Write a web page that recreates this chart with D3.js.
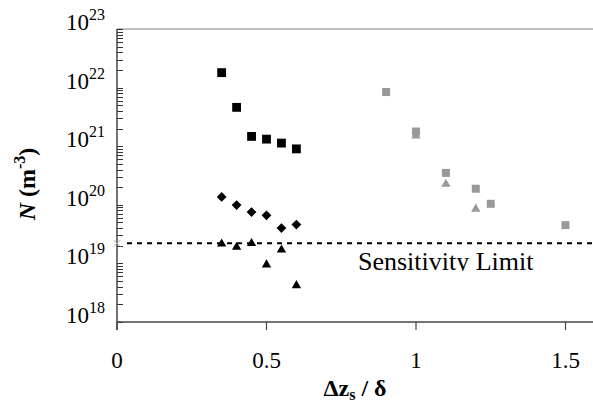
<!DOCTYPE html>
<html lang="en">
<head>
<meta charset="utf-8">
<title>N vs dz/delta</title>
<script src="https://d3js.org/d3.v7.min.js"></script>
<style>
  body { margin: 0; background: #fff; }
  svg { display: block; }
  text { font-family: "Liberation Serif", "Times New Roman", serif; fill: #000; }
</style>
</head>
<body>
<div id="chart"></div>
<script>
// values
var xBlack   = [0.35, 0.40, 0.45, 0.50, 0.55, 0.60];
var sqBlack  = [1.8e22, 4.6e21, 1.47e21, 1.32e21, 1.13e21, 9.0e20];
var diaBlack = [1.36e20, 9.9e19, 7.5e19, 6.6e19, 4.0e19, 4.6e19];
var triBlack = [2.15e19, 1.9e19, 2.2e19, 9.5e18, 1.7e19, 4.2e18];
var xGray    = [0.9, 1.0, 1.1, 1.2, 1.25, 1.5];
var sqGray   = [8.4e21, 1.78e21, 3.5e20, 1.88e20, 1.04e20, 4.5e19];
var xGrayTri = [1.0, 1.1, 1.2];
var triGray  = [1.5e21, 2.26e20, 8.5e19];
var sensLimit = 2.2e19;
var xTicks = [0, 0.5, 1, 1.5];
var yDecades = [18, 19, 20, 21, 22, 23];

var W = 593, H = 407;
var plotLeft = 117, plotTop = 29, plotBottom = 322;

var svg = d3.select("#chart").append("svg")
  .attr("width", W).attr("height", H);

var x = d3.scaleLinear().domain([0, 1.6]).range([plotLeft, plotLeft + 1.6 * 299]);
var y = d3.scaleLog().domain([1e18, 1e23]).range([plotBottom, plotTop]);

// top border
svg.append("line")
  .attr("x1", plotLeft).attr("x2", W).attr("y1", plotTop).attr("y2", plotTop)
  .attr("stroke", "#aaa").attr("stroke-width", 1.5);

// y minor + major ticks (inside)
var yTickVals = [];
yDecades.forEach(function(d) {
  yTickVals.push(Math.pow(10, d));
  if (d < 23) for (var k = 2; k <= 9; k++) yTickVals.push(k * Math.pow(10, d));
});
svg.append("g").selectAll("line").data(yTickVals).enter().append("line")
  .attr("x1", plotLeft).attr("x2", plotLeft + 6)
  .attr("y1", function(d) { return Math.round(y(d)) + 0.5; })
  .attr("y2", function(d) { return Math.round(y(d)) + 0.5; })
  .attr("stroke", "#333").attr("stroke-width", 1);

// axis lines
svg.append("line")
  .attr("x1", plotLeft).attr("x2", plotLeft).attr("y1", plotTop).attr("y2", plotBottom + 8)
  .attr("stroke", "#444").attr("stroke-width", 1.5);
svg.append("line")
  .attr("x1", plotLeft).attr("x2", W).attr("y1", plotBottom).attr("y2", plotBottom)
  .attr("stroke", "#444").attr("stroke-width", 1.5);

// x ticks (outside)
svg.append("g").selectAll("line").data(xTicks).enter().append("line")
  .attr("x1", function(d) { return x(d); }).attr("x2", function(d) { return x(d); })
  .attr("y1", plotBottom).attr("y2", plotBottom + 8)
  .attr("stroke", "#444").attr("stroke-width", 1.2);

svg.append("g").selectAll("text").data(xTicks).enter().append("text")
  .attr("x", function(d) { return x(d); })
  .attr("y", 368)
  .attr("text-anchor", "middle")
  .style("font-size", "23px")
  .text(function(d) { return d; });

// y tick labels 10^n
var yl = svg.append("g").selectAll("text").data(yDecades).enter().append("text")
  .attr("x", 105)
  .attr("y", function(d) { return y(Math.pow(10, d)) + 1; })
  .attr("text-anchor", "end")
  .style("font-size", "23px");
yl.append("tspan").text("10");
yl.append("tspan").attr("dy", -10).style("font-size", "16px")
  .text(function(d) { return d; });

// axis titles
svg.append("text")
  .attr("x", 355).attr("y", 396)
  .attr("text-anchor", "middle")
  .style("font-size", "24px").style("font-weight", "bold")
  .html('Δz<tspan dy="4" font-size="16px">s</tspan><tspan dy="-4"> / δ</tspan>');

svg.append("text")
  .attr("transform", "translate(35,184) rotate(-90)")
  .attr("text-anchor", "middle")
  .style("font-size", "24px").style("font-weight", "bold")
  .html('<tspan font-style="italic">N</tspan> (m<tspan dy="-10" font-size="16px">-3</tspan><tspan dy="10">)</tspan>');

// sensitivity limit
svg.append("line")
  .attr("x1", plotLeft + 10).attr("x2", W)
  .attr("y1", y(sensLimit)).attr("y2", y(sensLimit))
  .attr("stroke", "#000").attr("stroke-width", 2)
  .attr("stroke-dasharray", "5,5");
svg.append("path")
  .attr("d", d3.symbol().type(d3.symbolX).size(30)())
  .attr("transform", "translate(" + x(0) + "," + y(sensLimit) + ")")
  .attr("stroke", "#aaa").attr("fill", "none");

svg.append("clipPath").attr("id", "clipSens")
  .append("rect").attr("x", 340).attr("y", 248).attr("width", 220).attr("height", 23);
svg.append("text")
  .attr("x", 358).attr("y", 270)
  .attr("clip-path", "url(#clipSens)")
  .style("font-size", "26px")
  .text("Sensitivity Limit");

// markers
function drawSeries(xs, ys, type, size, color, rot) {
  svg.append("g").selectAll("path").data(xs).enter().append("path")
    .attr("d", d3.symbol().type(type).size(size)())
    .attr("transform", function(d, i) {
      return "translate(" + x(d) + "," + y(ys[i]) + ") rotate(" + (rot || 0) + ")";
    })
    .attr("fill", color);
}

drawSeries(xGrayTri, triGray, d3.symbolTriangle, 38, "#999");
drawSeries(xGray, sqGray, d3.symbolSquare, 64, "#999");
drawSeries(xBlack, sqBlack, d3.symbolSquare, 78, "#000");
drawSeries(xBlack, diaBlack, d3.symbolSquare, 48, "#000", 45);
drawSeries(xBlack, triBlack, d3.symbolTriangle, 38, "#000");
</script>
</body>
</html>
